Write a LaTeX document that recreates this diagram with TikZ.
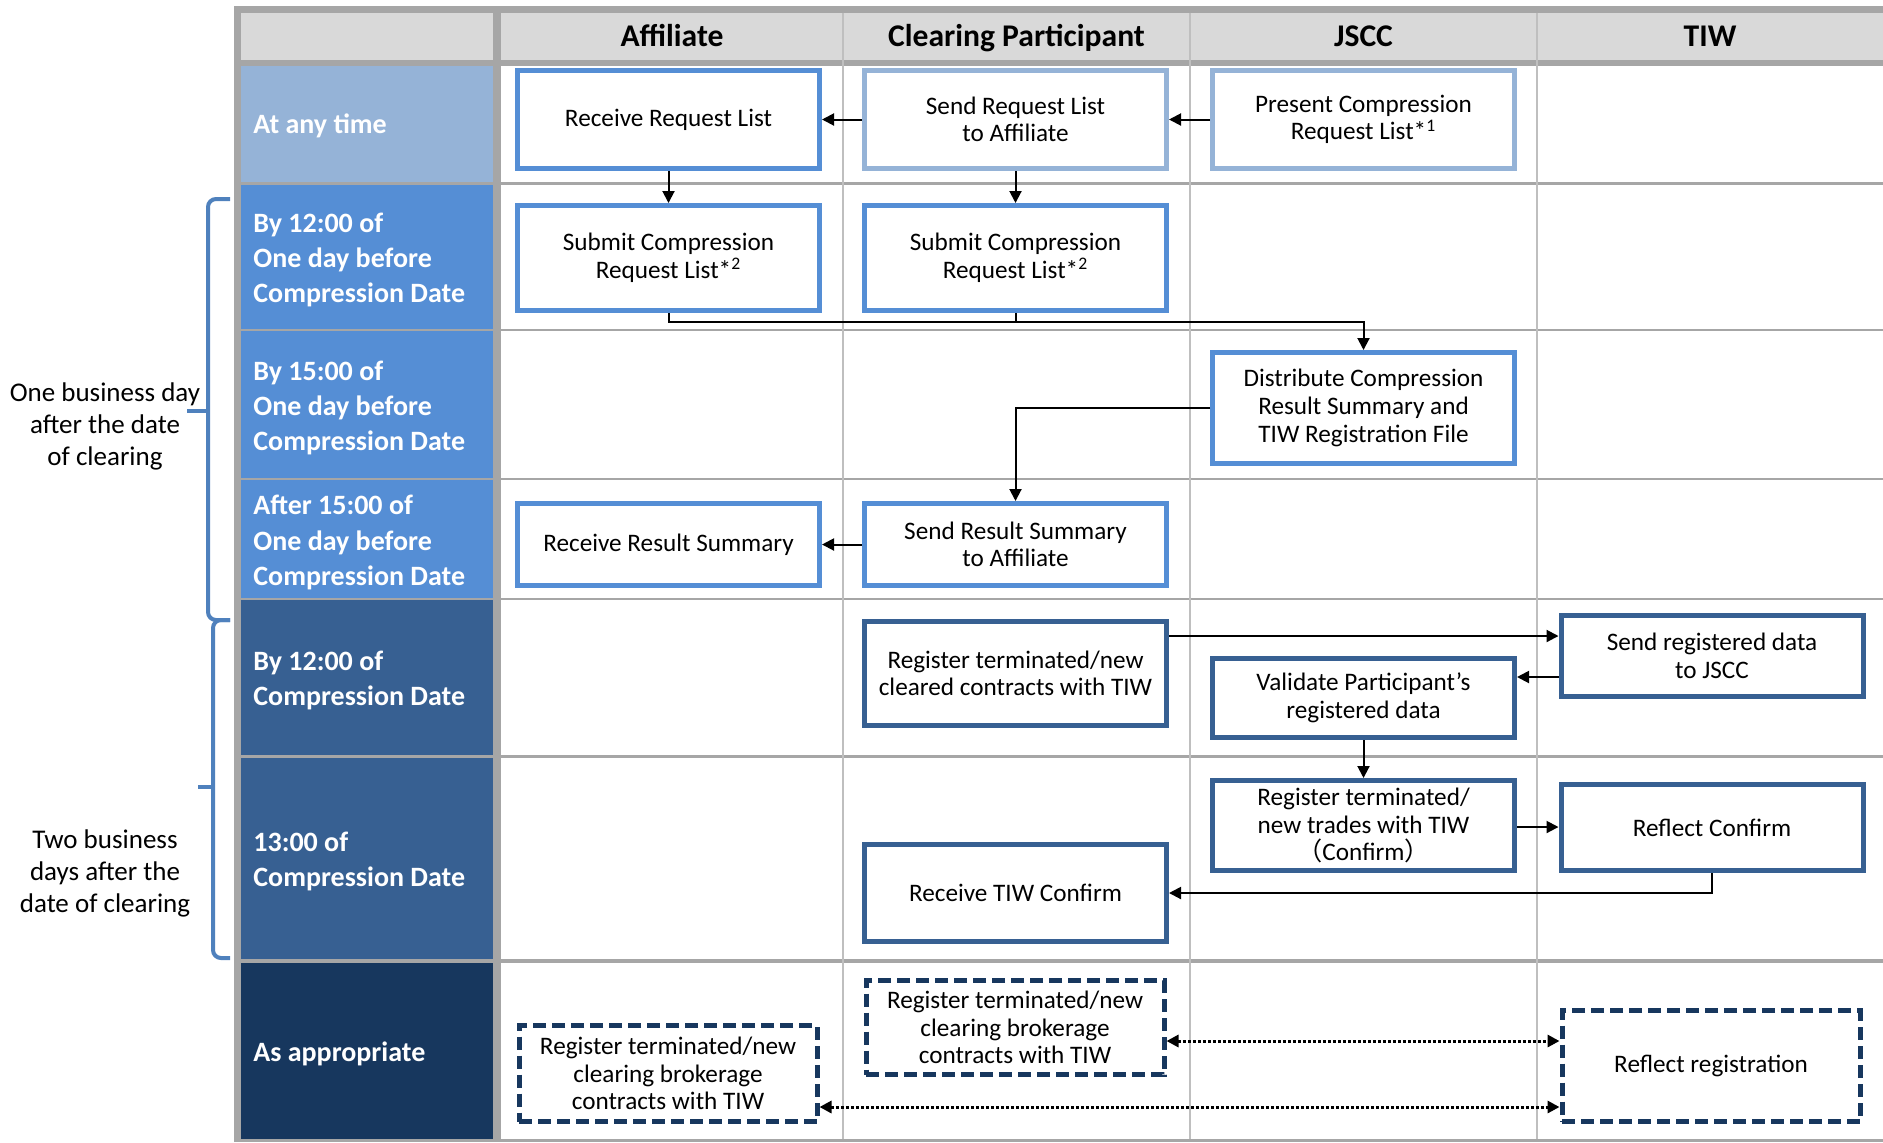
\documentclass[tikz,border=0pt]{standalone}
\usepackage{fontspec}
\setmainfont{Carlito}
\newfontfamily\cjkfont{Noto Sans CJK JP}
\usetikzlibrary{arrows.meta}
\definecolor{gridgray}{HTML}{A6A6A6}
\definecolor{thingray}{HTML}{BFBFBF}
\definecolor{headgray}{HTML}{D9D9D9}
\definecolor{cA}{HTML}{95B3D7}
\definecolor{cB}{HTML}{558ED5}
\definecolor{cC}{HTML}{376092}
\definecolor{cD}{HTML}{17375E}
\definecolor{bracecol}{HTML}{4F81BD}
\newcommand\myboxfont{\fontsize{12.6}{13.8}\selectfont}
\newcommand\myrowfont{\bfseries\fontsize{14}{17.7}\selectfont}
\newcommand\myheadfont{\bfseries\fontsize{15.8}{18}\selectfont}
\newcommand\mysidefont{\fontsize{13.5}{16}\selectfont}
\tikzset{
  box/.style={draw=#1, line width=2.5pt, fill=white, align=center, inner sep=1pt,
    font=\myboxfont, minimum width=151pt},
  dbox/.style={box=cD, dash pattern=on 6.5pt off 3pt, minimum width=149pt},
  rowlab/.style={anchor=west, text=white, font=\myrowfont, align=left, inner sep=0pt},
  headtext/.style={font=\myheadfont, inner sep=0pt, anchor=base},
  sidetext/.style={font=\mysidefont, align=center, inner sep=0pt},
  arr/.style={line width=1pt, -{Triangle[length=6pt,width=6pt]}},
  darr/.style={line width=1.5pt, dash pattern=on 1.5pt off 1pt,
    {Triangle[length=6pt,width=6pt]}-{Triangle[length=6pt,width=6pt]}},
  bracket/.style={draw=bracecol, line width=2pt, rounded corners=4pt}
}
\begin{document}
\begin{tikzpicture}[x=0.5pt,y=-0.5pt]
\useasboundingbox (0,0) rectangle (1883,1142);
% table grid
\fill[gridgray] (234,6) rectangle (1883,1142);
\fill[headgray] (241,12.7) rectangle (493,60);
\fill[headgray] (501,12.7) rectangle (1883,60);
\foreach \t/\b/\c in {65.6/182/cA, 185/329/cB, 331/478/cB, 480/598/cB,
  600/755/cC, 757.5/959/cC, 962.5/1139/cD}{
  \fill[\c] (241,\t) rectangle (493,\b);
  \fill[white] (501,\t) rectangle (1883,\b);
}
\foreach \x in {843,1190,1537}
  \draw[thingray, line width=0.6pt] (\x,12.7) -- (\x,1139);
% headers
\node[headtext] (hA) at (672,46.5) {Affiliate};
\node[headtext] (hB) at (1016.5,46.5) {Clearing Participant};
\node[headtext] (hC) at (1363.5,46.5) {JSCC};
\node[headtext] (hD) at (1710,46.5) {TIW};
% row labels
\node[rowlab] (r1) at (253,126) {At any time};
\node[rowlab] (r2) at (253,260) {By 12:00 of\\One day before\\Compression Date};
\node[rowlab] (r3) at (253,408) {By 15:00 of\\One day before\\Compression Date};
\node[rowlab] (r4) at (253,542.5) {After 15:00 of\\One day before\\Compression Date};
\node[rowlab] (r5) at (253,680.5) {By 12:00 of\\Compression Date};
\node[rowlab] (r6) at (253,861.5) {13:00 of\\Compression Date};
\node[rowlab] (r7) at (253,1053.5) {As appropriate};
% side brackets
\draw[bracket] (230,199) -- (208,199) -- (208,620) -- (230,620);
\draw[bracecol, line width=2pt] (208,410.6) -- (187,410.6);
\draw[bracket] (230,620) -- (213,620) -- (213,958) -- (230,958);
\draw[bracecol, line width=2pt] (213,787) -- (198,787);
\node[sidetext] (s1) at (105,426) {One business day\\after the date\\of clearing};
\node[sidetext] (s2) at (105,873) {Two business\\days after the\\date of clearing};
% boxes
\node[box=cB, minimum height=49pt] (n1) at (668.5,119.5) {Receive Request List};
\node[box=cA, minimum height=49pt] (n2) at (1015.5,119.5) {Send Request List\\to Affiliate};
\node[box=cA, minimum height=49pt] (n3) at (1363.5,119.5) {Present Compression\\Request List*\textsuperscript{1}};
\node[box=cB, minimum height=52.5pt] (n4) at (668.5,258) {Submit Compression\\Request List*\textsuperscript{2}};
\node[box=cB, minimum height=52.5pt] (n5) at (1015.5,258) {Submit Compression\\Request List*\textsuperscript{2}};
\node[box=cB, minimum height=55.5pt] (n6) at (1363.5,408) {Distribute Compression\\Result Summary and\\TIW Registration File};
\node[box=cB, minimum height=41pt] (n7) at (668.5,544.5) {Receive Result Summary};
\node[box=cB, minimum height=41pt] (n8) at (1015.5,544.5) {Send Result Summary\\to Affiliate};
\node[box=cC, minimum height=52pt] (n9) at (1015.5,673.5) {Register terminated/new\\cleared contracts with TIW};
\node[box=cC, minimum height=40.5pt] (n10) at (1712,656) {Send registered data\\to JSCC};
\node[box=cC, minimum height=39.5pt] (n11) at (1363.5,698) {Validate Participant’s\\registered data};
\node[box=cC, minimum height=45pt] (n12) at (1363.5,825.5) {Register terminated/\\new trades with TIW\\{\cjkfont （}Confirm{\cjkfont ）}};
\node[box=cC, minimum height=43pt] (n13) at (1712,827.5) {Reflect Confirm};
\node[box=cC, minimum height=48.5pt] (n14) at (1015.5,893) {Receive TIW Confirm};
\node[dbox, minimum height=47pt] (n15) at (1015,1027.5) {Register terminated/new\\clearing brokerage\\contracts with TIW};
\node[dbox, minimum height=48pt] (n16) at (668,1073.5) {Register terminated/new\\clearing brokerage\\contracts with TIW};
\node[dbox, minimum height=55.5pt] (n17) at (1711,1066) {Reflect registration};
% connectors
\draw[arr] (n2) -- (n1);
\draw[arr] (n3) -- (n2);
\draw[arr] (n1) -- (n4);
\draw[arr] (n2) -- (n5);
\draw[arr] (n4.south) -- ++(0,9) -| (n6.north);
\draw[line width=1pt] (n5.south) -- ++(0,9);
\draw[arr] (n6.west) -| (n8.north);
\draw[arr] (n8) -- (n7);
\coordinate (y9) at (0,636);
\draw[arr] (n9.east |- y9) -- (n10.west |- y9);
\coordinate (y10) at (0,677);
\draw[arr] (n10.west |- y10) -- (n11.east |- y10);
\draw[arr] (n11) -- (n12);
\coordinate (y12) at (0,827);
\draw[arr] (n12.east |- y12) -- (n13.west |- y12);
\draw[arr] (n13.south) |- (n14.east);
\coordinate (y15) at (0,1041);
\draw[darr] (n15.east |- y15) -- (n17.west |- y15);
\coordinate (y16) at (0,1107);
\draw[darr] (n16.east |- y16) -- (n17.west |- y16);
\end{tikzpicture}
\end{document}
